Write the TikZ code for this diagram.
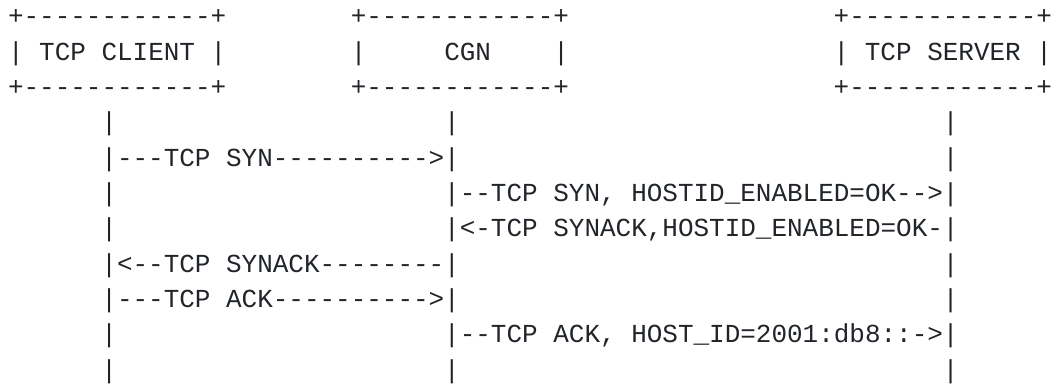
\documentclass[tikz,border=0pt]{standalone}
\usepackage{fontspec}
\setmonofont{Liberation Mono}
\usepackage{xcolor}
\usetikzlibrary{positioning}
\definecolor{inkgray}{HTML}{212529}
\newcommand{\asciifont}{\ttfamily\fontsize{19.48pt}{26.5pt}\selectfont}

\begin{document}
\begin{tikzpicture}[
    x=11.685pt, y=-26.475pt,
    every node/.style={anchor=base west, inner sep=0pt, outer sep=0pt, font=\asciifont, text=inkgray},
    msg/.style={anchor=base west}
]
\useasboundingbox (-6pt,18.75pt) rectangle (784.5pt,-270pt);

% the three boxes
\node (clienttop) at (0,0) {+------------+};
\node (client)    at (0,1) {|\ TCP\ CLIENT\ |};
\node (clientbot) at (0,2) {+------------+};

\node (cgntop) at (22,0) {+------------+};
\node (cgn)    at (22,1) {|\ \ \ \ \ CGN\ \ \ \ |};
\node (cgnbot) at (22,2) {+------------+};

\node (servertop) at (53,0) {+------------+};
\node (server)    at (53,1) {|\ TCP\ SERVER\ |};
\node (serverbot) at (53,2) {+------------+};

% lifelines
\foreach \col/\who in {6/cl, 28/cg, 60/sv}
  \foreach \row in {3,...,10}
    \node (\who\row) at (\col,\row) {|};

% messages
\node[msg] (syn)     at (cl4.base east) {---TCP\ SYN---------->};
\node[msg] (synhost) at (cg5.base east) {--TCP\ SYN,\ HOSTID\_ENABLED=OK-->};
\node[msg] (ackhost) at (cg6.base east) {<-TCP\ SYNACK,HOSTID\_ENABLED=OK-};
\node[msg] (synack)  at (cl7.base east) {<--TCP\ SYNACK--------};
\node[msg] (ack)     at (cl8.base east) {---TCP\ ACK---------->};
\node[msg] (hostid)  at (cg9.base east) {--TCP\ ACK,\ HOST\_ID=2001:db8::->};

\end{tikzpicture}
\end{document}
